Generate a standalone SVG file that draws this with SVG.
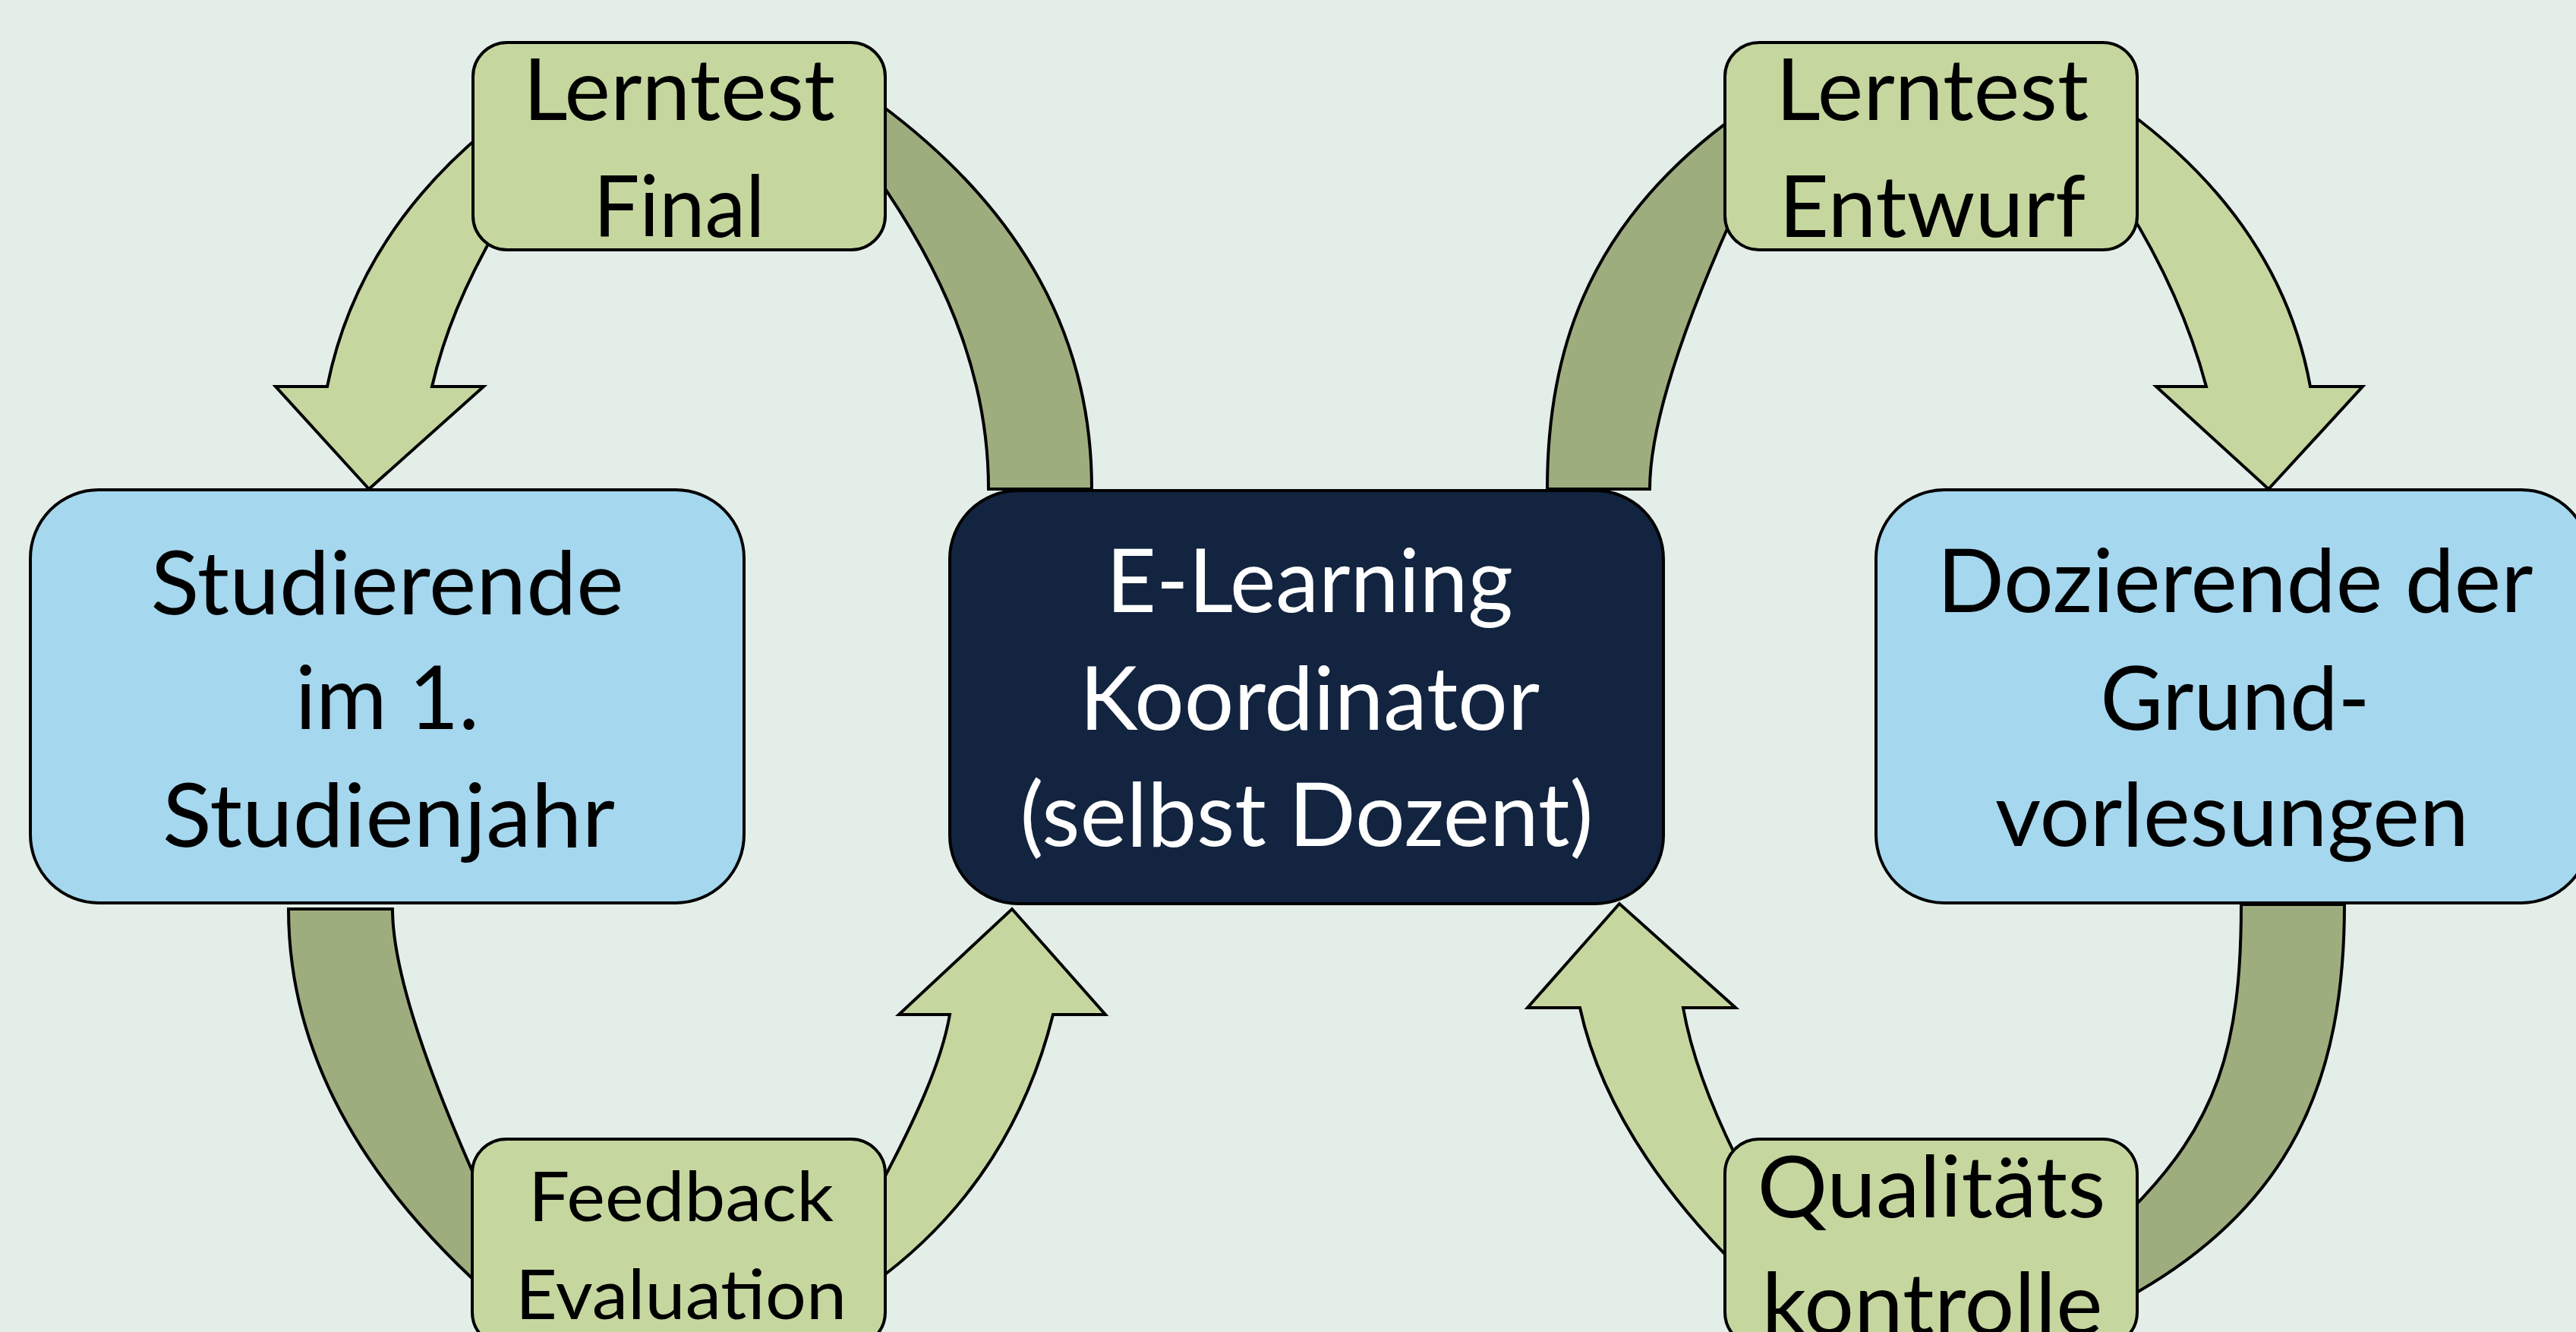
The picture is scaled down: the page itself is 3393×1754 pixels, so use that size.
<svg xmlns="http://www.w3.org/2000/svg" width="3393" height="1754" viewBox="0 0 3393 1754">
  <style>
    .bg { fill: #E4EEE9; }
    .flow { fill: #C5D79F; stroke: #000; stroke-width: 4; stroke-linejoin: miter; }
    .band { fill: #9EAD7E; stroke: #000; stroke-width: 4; stroke-linejoin: miter; }
    .step { fill: #C5D79F; stroke: #000; stroke-width: 4; }
    .role { fill: #A5D7EE; stroke: #000; stroke-width: 4; }
    .hub { fill: #12243F; stroke: #000; stroke-width: 4; }
    text { font-family: Lato, "Open Sans", "Liberation Sans", sans-serif; text-anchor: middle; fill: #000; }
    .big { font-size: 116px; }
    .mid { font-size: 113px; }
    .small { font-size: 92px; }
    .light { fill: #FFFFFF; }
  </style>

  <rect class="bg" x="0" y="0" width="3393" height="1754"/>

  <!-- curved arrows and bands between the roles -->
  <g id="connectors">
    <!-- Lerntest Final -> Studierende -->
    <path class="flow" d="M 640,172 C 527,266 457,379 431,509 L 363,509 L 486,644 L 637,509 L 569,509 C 585,440 612,375 655,300 Z"/>
    <!-- E-Learning Koordinator -> Lerntest Final -->
    <path class="band" d="M 1160,138 C 1348,278 1438,445 1438,644 L 1302,644 C 1302,511 1257,381 1160,240 Z"/>
    <!-- Studierende -> Feedback Evaluation -->
    <path class="band" d="M 380,1197 L 517,1197 C 517,1268 552,1383 622,1542 L 645,1590 L 645,1700 L 640,1700 C 467,1544 380,1376 380,1197 Z"/>
    <!-- Feedback Evaluation -> E-Learning Koordinator -->
    <path class="flow" d="M 1150,1690 C 1271,1602 1350,1484 1387,1336 L 1456,1336 L 1333,1197 L 1184,1336 L 1251,1336 C 1240,1400 1205,1475 1160,1560 Z"/>
    <!-- E-Learning Koordinator -> Lerntest Entwurf -->
    <path class="band" d="M 2038,644 L 2173,644 C 2173,567 2209,449 2280,290 L 2290,150 C 2080,300 2038,480 2038,644 Z"/>
    <!-- Lerntest Entwurf -> Dozierende -->
    <path class="flow" d="M 2800,145 C 2950,255 3020,382 3043,509 L 3112,509 L 2988,644 L 2840,509 L 2906,509 C 2885,430 2850,350 2800,270 Z"/>
    <!-- Dozierende -> Qualitätskontrolle -->
    <path class="band" d="M 2952,1191 L 3088,1191 C 3088,1420 3020,1590 2800,1710 L 2805,1595 C 2920,1480 2952,1380 2952,1191 Z"/>
    <!-- Qualitätskontrolle -> E-Learning Koordinator -->
    <path class="flow" d="M 2290,1670 C 2176,1556 2106,1442 2081,1327 L 2012,1327 L 2133,1190 L 2286,1327 L 2217,1327 C 2228,1390 2255,1460 2290,1530 Z"/>
  </g>

  <g id="lerntest-final">
    <rect class="step" x="623" y="56" width="543" height="273" rx="45" ry="45"/>
    <text class="mid" x="894.5" y="158" textLength="411" lengthAdjust="spacingAndGlyphs">Lerntest</text>
    <text class="mid" x="894.5" y="312" textLength="226" lengthAdjust="spacingAndGlyphs">Final</text>
  </g>

  <g id="lerntest-entwurf">
    <rect class="step" x="2272" y="56" width="543" height="273" rx="45" ry="45"/>
    <text class="mid" x="2545" y="158" textLength="412" lengthAdjust="spacingAndGlyphs">Lerntest</text>
    <text class="mid" x="2545" y="312" textLength="404" lengthAdjust="spacingAndGlyphs">Entwurf</text>
  </g>

  <g id="studierende">
    <rect class="role" x="40" y="645" width="940" height="544" rx="90" ry="90"/>
    <text class="big" x="510" y="809" textLength="623" lengthAdjust="spacingAndGlyphs">Studierende</text>
    <text class="big" x="510" y="960" textLength="242" lengthAdjust="spacingAndGlyphs">im 1.</text>
    <text class="big" x="512" y="1115" textLength="596" lengthAdjust="spacingAndGlyphs">Studienjahr</text>
  </g>

  <g id="e-learning-koordinator">
    <rect class="hub" x="1251" y="646" width="940" height="544" rx="90" ry="90"/>
    <text class="big light" x="1725" y="806" textLength="536" lengthAdjust="spacingAndGlyphs">E-Learning</text>
    <text class="big light" x="1725" y="961" textLength="606" lengthAdjust="spacingAndGlyphs">Koordinator</text>
    <text class="big light" x="1721" y="1114" textLength="755" lengthAdjust="spacingAndGlyphs">(selbst Dozent)</text>
  </g>

  <g id="dozierende">
    <rect class="role" x="2471" y="645" width="940" height="544" rx="90" ry="90"/>
    <text class="big" x="2944" y="806" textLength="785" lengthAdjust="spacingAndGlyphs">Dozierende der</text>
    <text class="big" x="2944" y="961" textLength="355" lengthAdjust="spacingAndGlyphs">Grund-</text>
    <text class="big" x="2940" y="1114" textLength="624" lengthAdjust="spacingAndGlyphs">vorlesungen</text>
  </g>

  <g id="feedback-evaluation">
    <rect class="step" x="622" y="1500" width="544" height="273" rx="45" ry="45"/>
    <text class="small" x="897" y="1608" textLength="402" lengthAdjust="spacingAndGlyphs">Feedback</text>
    <text class="small" x="897" y="1737" textLength="436" lengthAdjust="spacingAndGlyphs">Evaluation</text>
  </g>

  <g id="qualitaetskontrolle">
    <rect class="step" x="2272" y="1500" width="543" height="273" rx="45" ry="45"/>
    <text class="mid" x="2544" y="1603" textLength="459" lengthAdjust="spacingAndGlyphs">Qualitäts</text>
    <text class="mid" x="2545" y="1757" textLength="449" lengthAdjust="spacingAndGlyphs">kontrolle</text>
  </g>
</svg>
